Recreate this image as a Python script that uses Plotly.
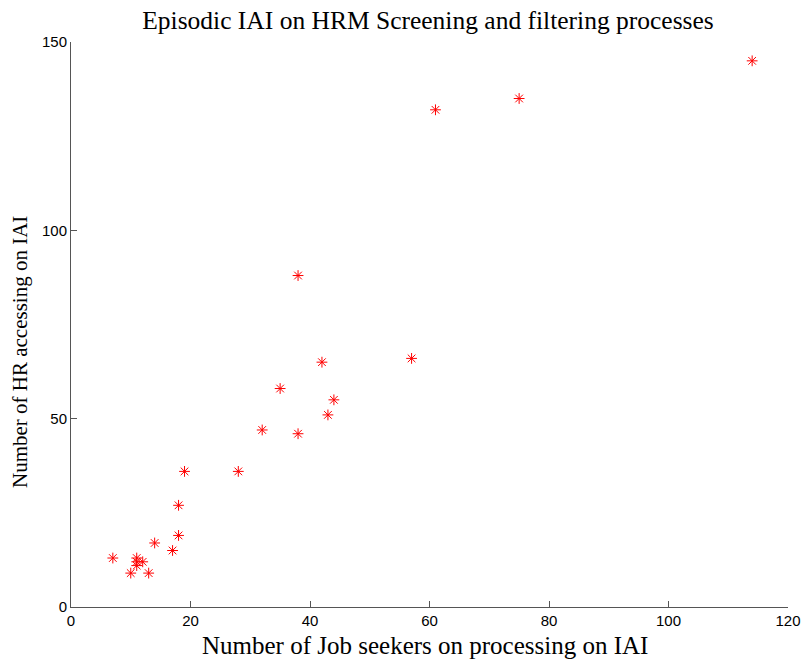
import plotly.graph_objects as go

job_seekers = [7, 10, 13, 11, 11, 12, 11, 14, 17, 18, 18, 19, 28, 32, 35, 38, 38, 42, 43, 44, 57, 61, 75, 114]
hr_accessing = [13, 9, 9, 12, 11, 12, 13, 17, 15, 19, 27, 36, 36, 47, 58, 46, 88, 65, 51, 55, 66, 132, 135, 145]

title_text = "Episodic IAI on HRM Screening and filtering processes"
x_title = "Number of Job seekers on processing on IAI"
y_title = "Number of HR accessing on IAI"
x_ticks = [0, 20, 40, 60, 80, 100, 120]
y_ticks = [0, 50, 100, 150]

W, H = 803, 660
L, T = 71, 42
R = W - 788
B = H - 607
pw, ph = W - L - R, H - T - B


def px_x(sx):
    return (sx - L) / pw


def px_y(sy):
    return (H - B - sy) / ph


fig = go.Figure()
fig.add_trace(go.Scatter(
    x=job_seekers, y=hr_accessing, mode="markers",
    marker=dict(symbol="asterisk-open", size=9, color="red",
                line=dict(color="red", width=1)),
    cliponaxis=False,
))

axis_common = dict(
    showgrid=False, zeroline=False, showline=True, linecolor="#555555",
    linewidth=1, ticks="inside", ticklen=6, tickcolor="#555555",
    mirror=False, automargin=False, ticklabeloverflow="allow",
    tickfont=dict(family="Liberation Sans, Arial", size=15, color="black"),
)

serif = "Liberation Serif, Times New Roman"
fig.update_layout(
    width=W, height=H,
    margin=dict(l=L, r=R, t=T, b=B),
    paper_bgcolor="white", plot_bgcolor="white",
    showlegend=False,
    title=dict(text=title_text, x=428 / W, xanchor="center",
               y=1 - 20 / H, yanchor="middle",
               font=dict(family=serif, size=25.5, color="black")),
    xaxis=dict(range=[0, 120], tickvals=x_ticks, **axis_common),
    yaxis=dict(range=[0, 150], tickvals=y_ticks, **axis_common),
    annotations=[
        dict(text=x_title, xref="paper", yref="paper",
             x=px_x(425), y=px_y(645),
             xanchor="center", yanchor="middle", showarrow=False,
             font=dict(family=serif, size=25, color="black")),
        dict(text=y_title, xref="paper", yref="paper", textangle=-90,
             x=px_x(20), y=px_y(352),
             xanchor="center", yanchor="middle", showarrow=False,
             font=dict(family=serif, size=21, color="black")),
    ],
)

fig.write_html(
    "out.html",
    config={"displayModeBar": False},
    post_script="document.body.style.margin='0';document.body.style.overflow='hidden';",
)
